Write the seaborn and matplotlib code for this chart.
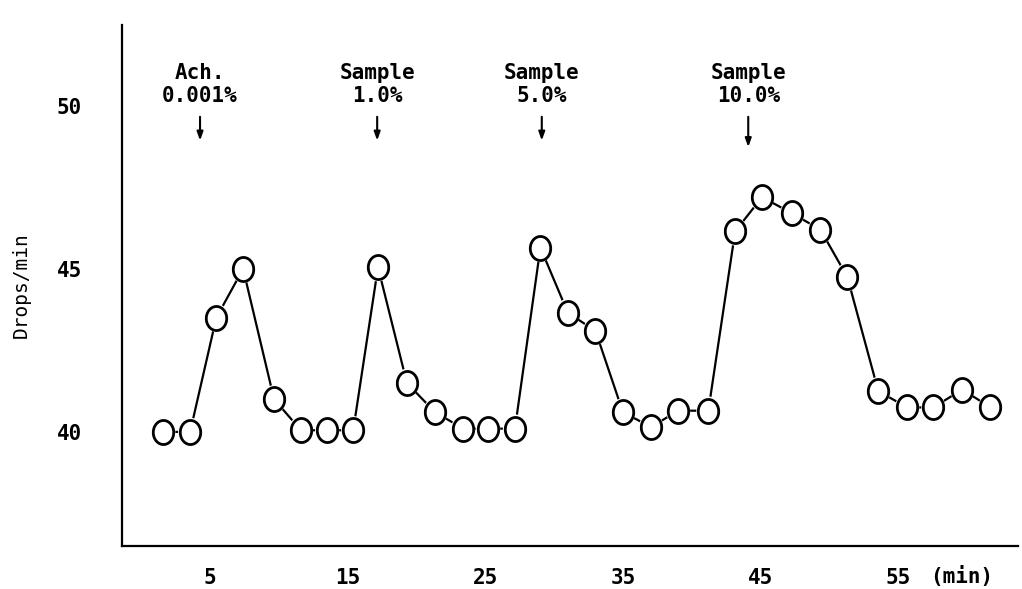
import numpy as np
import pandas as pd
import matplotlib
matplotlib.use("Agg")
import matplotlib.pyplot as plt
from matplotlib.path import Path
import seaborn as sns

# Data (hand-drawn, so the sampling times wobble a little)
minutes = [1.6, 3.55, 5.45, 7.4, 9.65, 11.6, 13.5, 15.4, 17.2, 19.3, 21.35,
           23.4, 25.2, 27.15, 29.0, 31.0, 33.0, 35.0, 37.05, 39.0, 41.2,
           43.15, 45.1, 47.3, 49.35, 51.3, 53.55, 55.65, 57.55, 59.65, 61.7]
drops = [40.0, 40.0, 43.5, 45.0, 41.0, 40.05, 40.05, 40.05, 45.05, 41.5, 40.6,
         40.1, 40.1, 40.1, 45.65, 43.65, 43.1, 40.6, 40.15, 40.65, 40.65,
         46.15, 47.2, 46.7, 46.2, 44.75, 41.25, 40.75, 40.75, 41.3, 40.75]

x_ticks = [5, 15, 25, 35, 45, 55]
y_ticks = [40, 45, 50]

dose_lines = [["Ach.", "0.001%"], ["Sample", "1.0%"], ["Sample", "5.0%"], ["Sample", "10.0%"]]
dose_x = [4.27, 17.14, 29.1, 44.1]
arrow_bottom = [48.85, 48.85, 48.85, 48.65]

df = pd.DataFrame({"min": minutes, "drops": drops})

sns.set_style("white")
plt.rcParams['font.family'] = ['DejaVu Sans Mono']
plt.rcParams['font.weight'] = 'bold'
for key in ['text.color', 'axes.labelcolor', 'xtick.color', 'ytick.color']:
    plt.rcParams[key] = 'black'

fig = plt.figure(figsize=(10.22, 5.89), dpi=100)
ax = fig.add_axes([122 / 1022, 43 / 589, 896 / 1022, 521 / 589])

# hollow marker, a bit taller than wide like the hand-drawn circles
theta = np.linspace(0, 2 * np.pi, 60)
ell = Path(np.column_stack([0.85 * np.cos(theta), np.sin(theta)]))

sns.lineplot(data=df, x="min", y="drops", color="black", lw=1.6, ax=ax, zorder=2)
sns.scatterplot(data=df, x="min", y="drops", marker=ell, s=420, color="white",
                edgecolor="none", ax=ax, zorder=3)
sns.scatterplot(data=df, x="min", y="drops", marker=ell, s=300, facecolor="white",
                edgecolor="black", linewidth=2.0, ax=ax, zorder=4)

ax.set_xlim(-1.4, 63.7)
ax.set_ylim(36.5, 52.48)
ax.set_xticks(x_ticks)
ax.set_xticklabels([str(v) for v in x_ticks])
ax.set_yticks(y_ticks)
ax.tick_params(axis="x", direction="out", length=12, width=1.6, pad=4, labelsize=15)
ax.tick_params(axis="y", direction="out", length=18, width=1.6, pad=11, labelsize=15)
ax.set_xlabel("")
ax.set_ylabel("Drops/min", fontsize=14)
ax.yaxis.set_label_coords(-0.102, 0.5)

for side in ["top", "right"]:
    ax.spines[side].set_visible(False)
for side in ["left", "bottom"]:
    ax.spines[side].set_linewidth(1.6)
    ax.spines[side].set_color("black")

ax.annotate("(min)", xy=(59.6, 0), xycoords=("data", "axes fraction"),
            xytext=(0, -22.3), textcoords="offset points", ha="center", va="center",
            fontsize=15)

for lines, xd, yb in zip(dose_lines, dose_x, arrow_bottom):
    ax.text(xd, 51.0, lines[0], ha="center", va="center", fontsize=15)
    ax.text(xd, 50.3, lines[1], ha="center", va="center", fontsize=15)
    ax.annotate("", xy=(xd, yb), xytext=(xd, 49.75),
                arrowprops=dict(arrowstyle="-|>,head_length=0.5,head_width=0.18",
                                color="black", lw=1.5))

fig.savefig("out.png", dpi=100)
